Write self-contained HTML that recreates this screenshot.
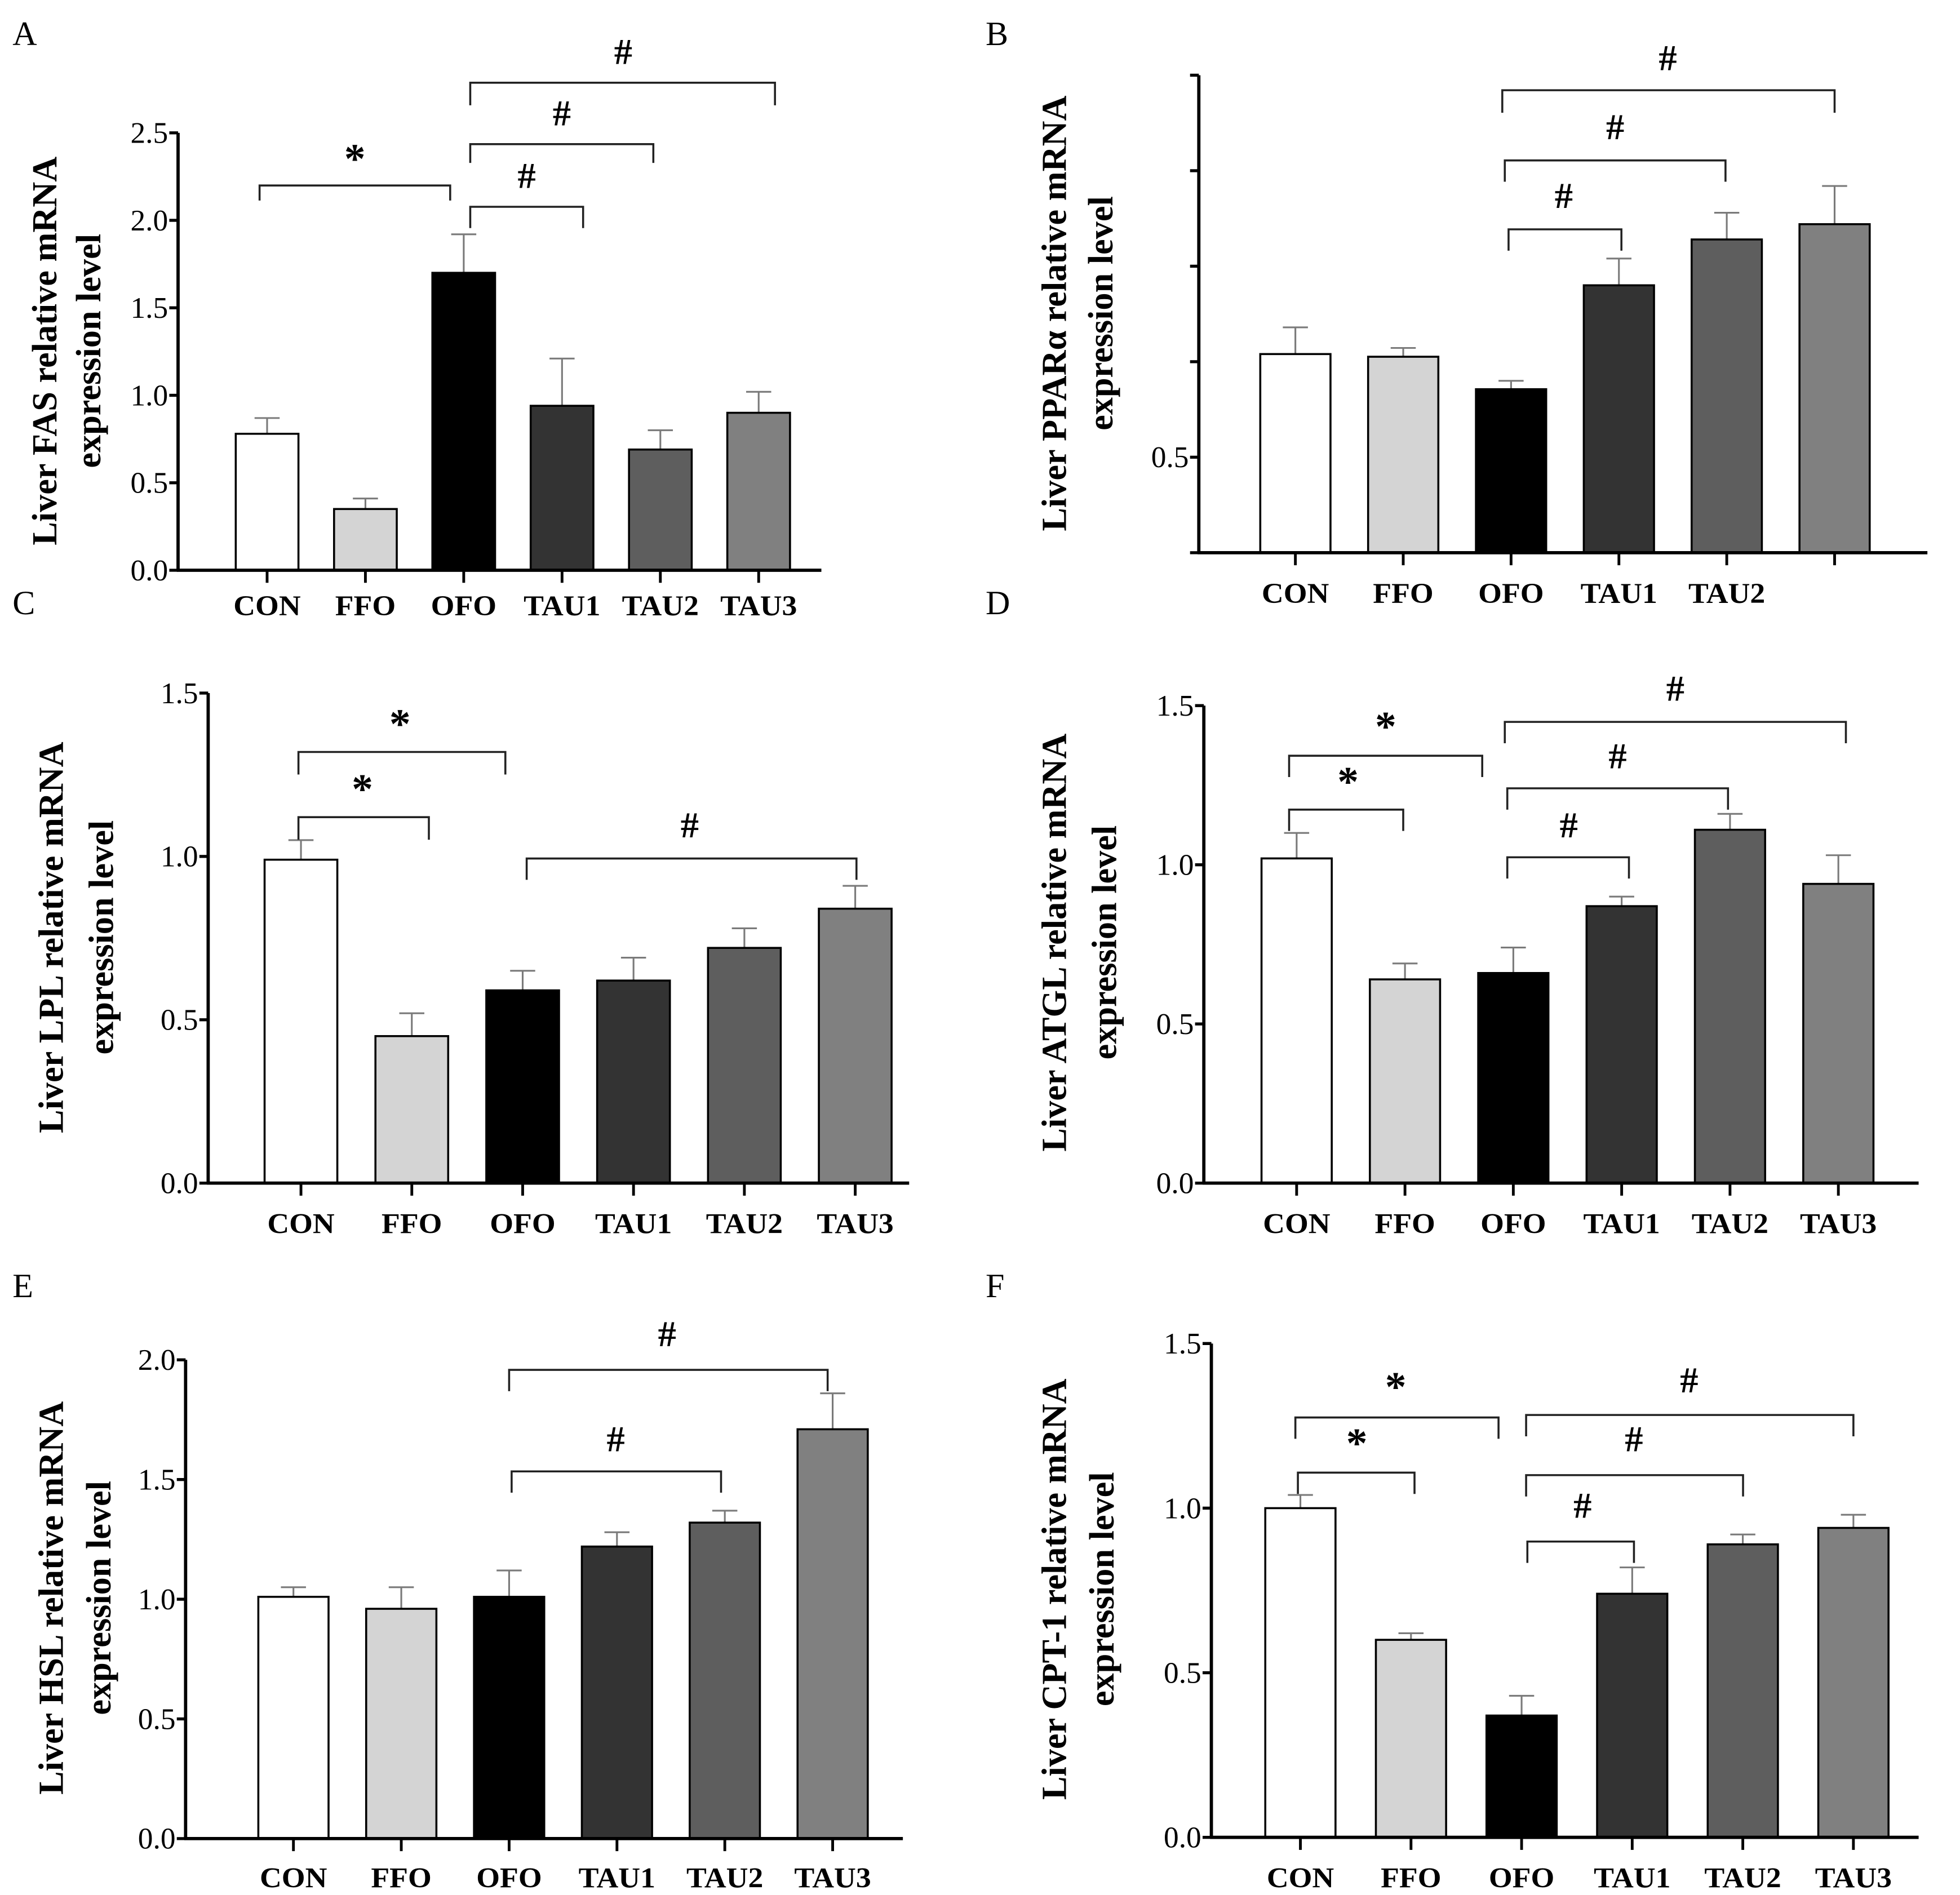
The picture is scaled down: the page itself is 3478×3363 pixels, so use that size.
<!DOCTYPE html>
<html><head><meta charset="utf-8"><style>
html,body{margin:0;padding:0;background:#fff;}
svg{display:block;}
</style></head><body>
<svg id="fig" xmlns="http://www.w3.org/2000/svg" width="3478" height="3363" viewBox="0 0 1563 1512" preserveAspectRatio="none" style="font-family:'Liberation Serif',serif;">
<rect width="1563" height="1512" fill="#fff"/>
</svg>
<script>
const categories = ["CON","FFO","OFO","TAU1","TAU2","TAU3"];
const colors = ["#ffffff","#d4d4d4","#000000","#333333","#5e5e5e","#808080"];
// Panel A - FAS
const valuesA = [0.78,0.35,1.70,0.94,0.69,0.90];
const errA = [0.87,0.41,1.92,1.21,0.80,1.02];
const ticksA = ["0.0","0.5","1.0","1.5","2.0","2.5"];
// Panel B - PPARa
const valuesB = [0.77,0.763,0.678,0.95,1.07,1.11];
const errB = [0.84,0.786,0.70,1.02,1.14,1.21];
const ticksB = ["","0.5","","","",""];
const xlabB = ["CON","FFO","OFO","TAU1","TAU2",""];
// Panel C - LPL
const valuesC = [0.99,0.45,0.59,0.62,0.72,0.84];
const errC = [1.05,0.52,0.65,0.69,0.78,0.91];
const ticksC = ["0.0","0.5","1.0","1.5"];
// Panel D - ATGL
const valuesD = [1.02,0.64,0.66,0.87,1.11,0.94];
const errD = [1.10,0.69,0.74,0.90,1.16,1.03];
const ticksD = ["0.0","0.5","1.0","1.5"];
// Panel E - HSL
const valuesE = [1.01,0.96,1.01,1.22,1.32,1.71];
const errE = [1.05,1.05,1.12,1.28,1.37,1.86];
const ticksE = ["0.0","0.5","1.0","1.5","2.0"];
// Panel F - CPT-1
const valuesF = [1.00,0.60,0.37,0.74,0.89,0.94];
const errF = [1.04,0.62,0.43,0.82,0.92,0.98];
const ticksF = ["0.0","0.5","1.0","1.5"];

const NS="http://www.w3.org/2000/svg";
const svg=document.getElementById('fig');
function mk(tag,attrs,parent){const e=document.createElementNS(NS,tag);for(const k in attrs)e.setAttribute(k,attrs[k]);(parent||svg).appendChild(e);return e;}

const panels=[
 {id:"a",letter:"A",lx:10,ly:36,ax:142,top:106,bot:455,right:655,ymin:0,ymax:2.5,ticks:ticksA,tickStep:0.5,vals:valuesA,errs:errA,c0:213,step:78.4,bw:50,xl:categories,xly:491,t1:"Liver FAS relative mRNA",t2:"expression level",tx:45,tx2:80,tcy:280,
  br:[{a:207,b:359,y:148,leg:160,s:"*",sx:283,sy:138},{a:375,b:465,y:165,leg:182,s:"#",sx:420,sy:150},{a:375,b:521,y:115,leg:130,s:"#",sx:448,sy:100},{a:375,b:618,y:66,leg:84,s:"#",sx:497,sy:51}]},
 {id:"b",letter:"B",lx:786,ly:36,ax:956,top:60,bot:441,right:1537,ymin:0.25,ymax:1.5,ticks:ticksB,tickStep:0.25,vals:valuesB,errs:errB,c0:1033,step:86,bw:56,xl:xlabB,xly:481,t1:"Liver PPARα relative mRNA",t2:"expression level",tx:850,tx2:887,tcy:250,
  br:[{a:1203,b:1293,y:183,leg:200,s:"#",sx:1247,sy:166},{a:1200,b:1376,y:128,leg:145,s:"#",sx:1288,sy:111},{a:1198,b:1463,y:72,leg:90,s:"#",sx:1330,sy:56}]},
 {id:"c",letter:"C",lx:10,ly:490,ax:166,top:553,bot:944,right:725,ymin:0,ymax:1.5,ticks:ticksC,tickStep:0.5,vals:valuesC,errs:errC,c0:240,step:88.4,bw:58,xl:categories,xly:984,t1:"Liver LPL relative mRNA",t2:"expression level",tx:50,tx2:90,tcy:748,
  br:[{a:238,b:342,y:652,leg:670,s:"*",sx:289,sy:641},{a:238,b:403,y:600,leg:618,s:"*",sx:319,sy:589},{a:420,b:683,y:685,leg:702,s:"#",sx:550,sy:668}]},
 {id:"d",letter:"D",lx:786,ly:490,ax:960,top:563,bot:944,right:1530,ymin:0,ymax:1.5,ticks:ticksD,tickStep:0.5,vals:valuesD,errs:errD,c0:1034,step:86.4,bw:56,xl:categories,xly:984,t1:"Liver ATGL relative mRNA",t2:"expression level",tx:850,tx2:890,tcy:752,
  br:[{a:1028,b:1119,y:646,leg:663,s:"*",sx:1075,sy:635},{a:1028,b:1182,y:603,leg:620,s:"*",sx:1105,sy:591},{a:1202,b:1299,y:684,leg:701,s:"#",sx:1251,sy:668},{a:1202,b:1378,y:629,leg:646,s:"#",sx:1290,sy:613},{a:1200,b:1472,y:576,leg:593,s:"#",sx:1336,sy:559}]},
 {id:"e",letter:"E",lx:10,ly:1035,ax:148,top:1085,bot:1467,right:720,ymin:0,ymax:2.0,ticks:ticksE,tickStep:0.5,vals:valuesE,errs:errE,c0:234,step:86,bw:56,xl:categories,xly:1506,t1:"Liver HSL relative mRNA",t2:"expression level",tx:50,tx2:88,tcy:1275,
  br:[{a:408,b:575,y:1174,leg:1191,s:"#",sx:491,sy:1158},{a:406,b:660,y:1093,leg:1110,s:"#",sx:532,sy:1074}]},
 {id:"f",letter:"F",lx:786,ly:1035,ax:966,top:1072,bot:1466,right:1530,ymin:0,ymax:1.5,ticks:ticksF,tickStep:0.5,vals:valuesF,errs:errF,c0:1037,step:88.2,bw:56,xl:categories,xly:1506,t1:"Liver CPT-1 relative mRNA",t2:"expression level",tx:850,tx2:888,tcy:1268,
  br:[{a:1035,b:1128,y:1175,leg:1192,s:"*",sx:1082,sy:1163},{a:1033,b:1195,y:1131,leg:1148,s:"*",sx:1113,sy:1118},{a:1218,b:1303,y:1230,leg:1247,s:"#",sx:1262,sy:1211},{a:1217,b:1390,y:1177,leg:1194,s:"#",sx:1303,sy:1158},{a:1217,b:1478,y:1129,leg:1146,s:"#",sx:1347,sy:1111}]}
];

panels.forEach(p=>{
  const g=mk('g',{});
  
  
  const yS=v=>p.bot-(v-p.ymin)/(p.ymax-p.ymin)*(p.bot-p.top);
  const xS=i=>p.c0+i*p.step;
  const L=mk('text',{x:p.lx,y:p.ly,'font-size':27},g);L.textContent=p.letter;
  
  
  p.vals.forEach((v,i)=>{
    const x=xS(i),y=yS(v),ey=yS(p.errs[i]);
    const el=mk('line',{x1:x,x2:x,y1:y,y2:ey,stroke:'#7a7a7a','stroke-width':1.4},g);
    
    
    const cap=mk('line',{x1:x-10,x2:x+10,y1:ey,y2:ey,stroke:'#7a7a7a','stroke-width':1.4},g);
    
    
    const r=mk('rect',{x:x-p.bw/2,y:y,width:p.bw,height:p.bot-y,fill:colors[i],stroke:'#000','stroke-width':1.6},g);
    
    
  });
  const ya=mk('line',{x1:p.ax,x2:p.ax,y1:p.top,y2:p.bot+1,stroke:'#000','stroke-width':2.6},g);
  
  
  const xa=mk('line',{x1:p.ax-1,x2:p.right,y1:p.bot,y2:p.bot,stroke:'#000','stroke-width':2.6},g);
  
  
  p.ticks.forEach((t,k)=>{
    const y=yS(p.ymin+k*p.tickStep);
    const tk=mk('line',{x1:p.ax-7,x2:p.ax,y1:y,y2:y,stroke:'#000','stroke-width':2.4},g);
    
    
    if(t){const tl=mk('text',{x:p.ax-8,y:y+8,'font-size':24,'text-anchor':'end'},g);tl.textContent=t;
      
      }
  });
  p.xl.forEach((c,i)=>{
    const x=xS(i);
    const tk=mk('line',{x1:x,x2:x,y1:p.bot,y2:p.bot+10,stroke:'#000','stroke-width':2.2},g);
    
    
    if(c){const tl=mk('text',{x:x,y:p.xly,'font-size':23,'font-weight':'bold','text-anchor':'middle',transform:`translate(${x} 0) scale(1.05 1) translate(${-x} 0)`},g);tl.textContent=c;
      
      }
  });
  [[p.t1,p.tx],[p.t2,p.tx2]].forEach(([t,x],k)=>{
    const tt=mk('text',{x:x,y:p.tcy,'font-size':28,'font-weight':'bold','text-anchor':'middle',transform:`rotate(-90 ${x} ${p.tcy})`},g);
    tt.textContent=t;
    
    
  });
  p.br.forEach(b=>{
    const pl=mk('polyline',{points:`${b.a},${b.leg} ${b.a},${b.y} ${b.b},${b.y} ${b.b},${b.leg}`,fill:'none',stroke:'#222','stroke-width':1.6},g);
    
    
    const s=mk('text',{x:b.sx,y:b.sy,'font-size':b.s==='*'?34:29,'font-weight':'bold','text-anchor':'middle'},g);
    s.textContent=b.s;
    
    
  });
});
</script>
</body></html>
